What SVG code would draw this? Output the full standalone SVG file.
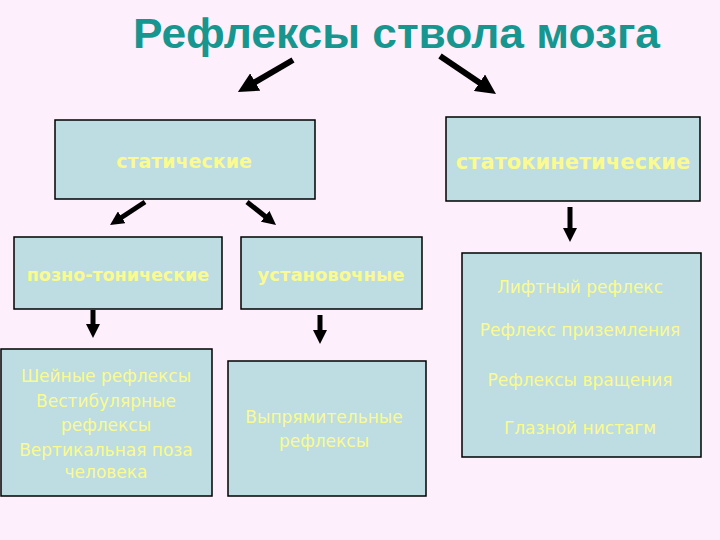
<svg xmlns="http://www.w3.org/2000/svg" width="720" height="540" viewBox="0 0 720 540">
<style>
.box{fill:#BDDDE3;stroke:#000;stroke-width:1.5}
.bt{font-family:"DejaVu Sans",Verdana,sans-serif;font-weight:bold;fill:#FAFA90;text-anchor:middle}
.rt{font-family:"DejaVu Sans",Verdana,sans-serif;fill:#FAFA90;text-anchor:middle;font-size:17px}
.title{font-family:"Liberation Sans",Arial,sans-serif;font-weight:bold;fill:#17968F;font-size:42px;text-anchor:middle}
.big{stroke:#000;stroke-width:6;fill:none;marker-end:url(#hb)}
.sm{stroke:#000;stroke-width:5;fill:none;marker-end:url(#hs)}
</style>
<defs>
<marker id="hb" viewBox="0 0 20 20" markerWidth="20" markerHeight="20" refX="6" refY="10" markerUnits="userSpaceOnUse" orient="auto"><path d="M0,0 L20,10 L0,20 z" fill="#000"/></marker>
<marker id="hs" viewBox="0 0 14 14" markerWidth="14" markerHeight="14" refX="4" refY="7" markerUnits="userSpaceOnUse" orient="auto"><path d="M0,0 L14,7 L0,14 z" fill="#000"/></marker>
</defs>
<rect width="720" height="540" fill="#FDF0FC"/>
<text class="title" x="396.5" y="48" textLength="527" lengthAdjust="spacingAndGlyphs">Рефлексы ствола мозга</text>
<g id="connectors">
<line class="big" x1="293" y1="60" x2="250" y2="85"/>
<line class="big" x1="440" y1="56" x2="484.4" y2="86.1"/>
<line class="sm" x1="145" y1="202" x2="118.4" y2="219.5"/>
<line class="sm" x1="247" y1="202" x2="268.2" y2="218.8"/>
<line class="sm" x1="570" y1="207" x2="570" y2="232"/>
<line class="sm" x1="93" y1="310" x2="93" y2="328"/>
<line class="sm" x1="320" y1="315" x2="320" y2="334"/>
</g>
<g id="static">
<rect class="box" x="55" y="120" width="260" height="79"/>
<text class="bt" x="184" y="168" font-size="19">статические</text>
</g>
<g id="statokinetic">
<rect class="box" x="446" y="117" width="254" height="84"/>
<text class="bt" x="573" y="169" font-size="21">статокинетические</text>
</g>
<g id="pozno">
<rect class="box" x="14" y="237" width="208" height="72"/>
<text class="bt" x="118" y="281" font-size="17.5">позно-тонические</text>
</g>
<g id="ustanov">
<rect class="box" x="241" y="237" width="181" height="72"/>
<text class="bt" x="331" y="281" font-size="18">установочные</text>
</g>
<g id="neck">
<rect class="box" x="1" y="349" width="211" height="147"/>
<text class="rt" x="106" y="382">Шейные рефлексы</text>
<text class="rt" x="106" y="407">Вестибулярные</text>
<text class="rt" x="106" y="431">рефлексы</text>
<text class="rt" x="106" y="456">Вертикальная поза</text>
<text class="rt" x="106" y="478">человека</text>
</g>
<g id="straight">
<rect class="box" x="228" y="361" width="198" height="135"/>
<text class="rt" x="324" y="423">Выпрямительные</text>
<text class="rt" x="324" y="447">рефлексы</text>
</g>
<g id="kinetic">
<rect class="box" x="462" y="253" width="239" height="204"/>
<text class="rt" x="580" y="293">Лифтный рефлекс</text>
<text class="rt" x="580" y="336">Рефлекс приземления</text>
<text class="rt" x="580" y="386">Рефлексы вращения</text>
<text class="rt" x="580" y="434">Глазной нистагм</text>
</g>
</svg>
